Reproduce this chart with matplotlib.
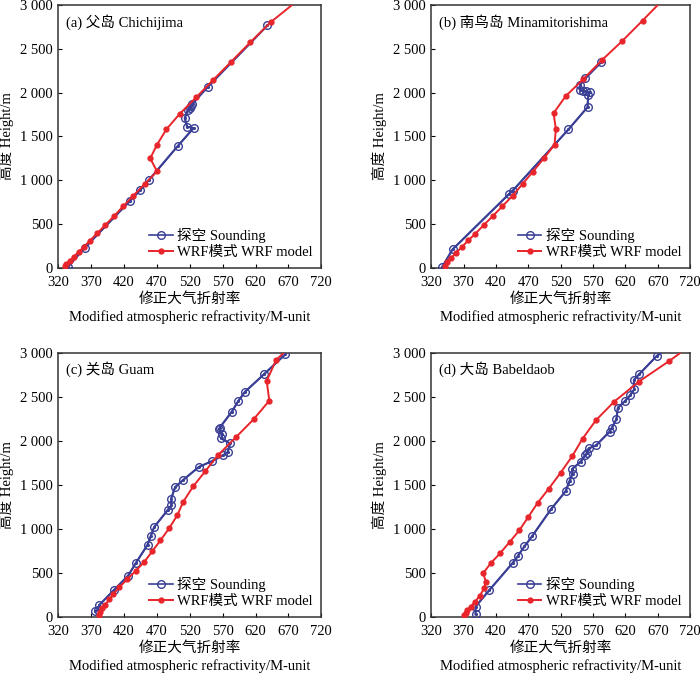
import matplotlib.pyplot as plt
import numpy as np

plt.rcParams['font.family'] = ['Liberation Serif', 'Noto Sans CJK SC']
plt.rcParams['axes.unicode_minus'] = False

# (a) Chichijima
a_snd_m = [335, 360.5, 428.9, 445, 457.7, 502, 526, 516, 512.4, 517.5, 520, 522.5, 524, 547.8, 638]
a_snd_h = [8, 227, 760, 889, 999, 1392, 1597, 1612, 1710, 1805, 1827, 1850, 1873, 2070, 2770]
a_wrf_m = [331, 332.7, 337.7, 343.8, 351.4, 359, 368, 379, 391.4, 404.6, 418.7, 434, 451.6,
           470.4, 460, 470.4, 484.6, 504.8, 530, 555.4, 583.3, 612, 643, 683]
a_wrf_h = [19, 38, 76, 125, 182, 235, 306, 390, 484, 586, 700, 821, 957,
           1101, 1249, 1407, 1582, 1759, 1949, 2145, 2357, 2577, 2807, 3050]

# (b) Minamitorishima
b_snd_m = [337, 353, 440.5, 445.6, 532, 561.4, 562.5, 565.6, 559.4, 553.7, 550, 550, 557.8, 583]
b_snd_h = [8, 208, 844, 878, 1581, 1835, 1975, 2005, 2017, 2024, 2032, 2092, 2164, 2353]
b_wrf_m = [341.6, 344, 351, 358.6, 367.4, 377, 388, 400.8, 414.7, 429.7, 445.6, 461.6, 477,
           494, 510.5, 512.5, 509, 527.5, 555, 584, 615, 646.4, 676]
b_wrf_h = [19, 68, 113, 170, 235, 310, 386, 484, 586, 700, 821, 961, 1097,
           1249, 1407, 1585, 1767, 1960, 2157, 2376, 2592, 2826, 3050]

# (c) Guam
c_snd_m = [376.6, 380, 382.7, 405, 426.5, 438, 456, 460.6, 466, 487, 492.2, 491.7, 497.8, 509.6,
           534, 553.4, 571.2, 577.8, 581.4, 568, 569.7, 564.6, 565.6, 584, 593.6, 603.8, 632.9, 665.5]
c_snd_h = [65, 76, 133, 304, 467, 608, 817, 911, 1018, 1215, 1265, 1337, 1470, 1550,
           1701, 1765, 1834, 1869, 1967, 2024, 2070, 2134, 2146, 2328, 2446, 2552, 2753, 2981]
c_wrf_m = [381.7, 383.7, 386.2, 391.3, 398, 404, 413, 425, 438, 451, 463, 475.4, 488.7, 501.4,
           510, 525.4, 543.7, 563, 590, 617, 641, 637, 651.2, 670]
c_wrf_h = [15, 57, 95, 133, 197, 258, 334, 425, 520, 623, 741, 866, 1003, 1155,
           1303, 1481, 1652, 1834, 2036, 2241, 2453, 2677, 2913, 3050]

# (d) Babeldaob
d_snd_m = [388.5, 388.5, 410, 445.6, 453.3, 464, 475.5, 505.3, 527.5, 533.6, 538.3, 537.8, 551,
           557.8, 561, 563, 574.8, 595.4, 599, 606, 608.3, 619, 627.3, 633.5, 633, 641.2, 668.5, 685]
d_snd_h = [27, 114, 304, 608, 684, 798, 911, 1223, 1424, 1538, 1625, 1678, 1761,
           1834, 1861, 1910, 1947, 2100, 2146, 2241, 2374, 2446, 2514, 2582, 2688, 2753, 2962, 3050]
d_wrf_m = [370.5, 373, 376, 380.7, 388, 395, 402, 404.4, 400.3, 412, 426.6, 441.5, 456, 469.9,
           484.2, 501.7, 519.7, 537.8, 553.7, 574.3, 602.6, 640.7, 686.5, 715]
d_wrf_h = [15, 46, 72, 114, 171, 239, 323, 399, 494, 608, 722, 851, 980, 1132,
           1291, 1455, 1633, 1823, 2021, 2230, 2442, 2669, 2898, 3050]

titles = ['(a) 父岛 Chichijima', '(b) 南鸟岛 Minamitorishima',
          '(c) 关岛 Guam', '(d) 大岛 Babeldaob']
xticks = [320, 370, 420, 470, 520, 570, 620, 670, 720]
yticks = [0, 500, 1000, 1500, 2000, 2500, 3000]
ytick_labels = ['0', '500', '1 000', '1 500', '2 000', '2 500', '3 000']

panels = [(a_snd_m, a_snd_h, a_wrf_m, a_wrf_h),
          (b_snd_m, b_snd_h, b_wrf_m, b_wrf_h),
          (c_snd_m, c_snd_h, c_wrf_m, c_wrf_h),
          (d_snd_m, d_snd_h, d_wrf_m, d_wrf_h)]

blue = '#3a3f96'
red = '#e8252b'

fig = plt.figure(figsize=(7, 6.74), dpi=100)
boxes = [[0.083, 0.603, 0.376, 0.389],
         [0.616, 0.603, 0.370, 0.389],
         [0.083, 0.085, 0.376, 0.392],
         [0.616, 0.085, 0.370, 0.392]]

for box, (sm, sh, wm, wh), title in zip(boxes, panels, titles):
    ax = fig.add_axes(box)
    ax.plot(sm, sh, '-', color=blue, lw=1.2, marker='o', ms=5.5, mfc='none',
            mec=blue, mew=1.0, label='探空 Sounding', zorder=3)
    ax.plot(sm, sh, 'none', marker='.', ms=2.5, color=blue, zorder=3)
    ax.plot(wm, wh, '-', color=red, lw=1.4, marker='o', ms=3.5, mec=red, mfc=red,
            label='WRF模式 WRF model', zorder=4)
    ax.set_xlim(320, 720)
    ax.set_ylim(0, 3000)
    ax.set_xticks(xticks)
    ax.set_yticks(yticks)
    ax.set_yticklabels(ytick_labels)
    ax.tick_params(direction='in', length=3, labelsize=10.5, width=0.8)
    ax.tick_params(axis='x', pad=6)
    ax.tick_params(axis='y', pad=4)
    for s in ax.spines.values():
        s.set_linewidth(1.1)
        s.set_color('#333333')
    ax.text(0.03, 0.965, title, transform=ax.transAxes, fontsize=10.5, va='top', ha='left')
    ax.set_ylabel('高度 Height/m', fontsize=10.5, labelpad=4)
    ax.set_xlabel('修正大气折射率\nModified atmospheric refractivity/M-unit',
                  fontsize=10.5, linespacing=1.45, labelpad=2)
    ax.legend(loc='lower right', frameon=False, fontsize=10.5, handlelength=1.6,
              handletextpad=0.3, borderaxespad=0.2, labelspacing=0.2)

fig.savefig('out.png', dpi=100)
